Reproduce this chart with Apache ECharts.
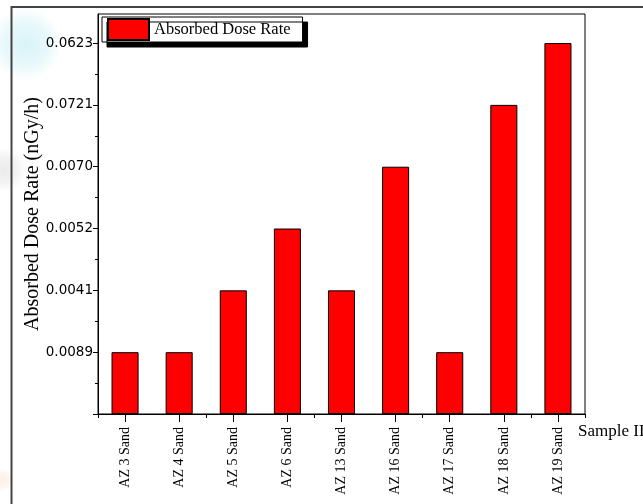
<!DOCTYPE html>
<html>
<head>
<meta charset="utf-8">
<script src="https://cdn.jsdelivr.net/npm/echarts@6/dist/echarts.min.js"></script>
<style>
  html, body { margin: 0; padding: 0; background: #ffffff; }
  #chart { width: 643px; height: 504px; }
</style>
</head>
<body>
<div id="chart"></div>
<script>
// Sample identifiers along the horizontal axis
const categories = ['AZ 3 Sand', 'AZ 4 Sand', 'AZ 5 Sand', 'AZ 6 Sand', 'AZ 13 Sand',
                    'AZ 16 Sand', 'AZ 17 Sand', 'AZ 18 Sand', 'AZ 19 Sand'];

// Printed labels of the dose-rate scale, from the first step upward
const tickLabels = ['0.0089', '0.0041', '0.0052', '0.0070', '0.0721', '0.0623'];

// Absorbed dose rate of each sample (nGy/h), as printed on the scale
const doseRates = ['0.0089', '0.0089', '0.0041', '0.0052', '0.0041',
                   '0.0070', '0.0089', '0.0721', '0.0623'];

// Each bar reaches the scale step that carries its dose-rate label
const barLevels = doseRates.map(d => tickLabels.indexOf(d) + 1);
const majorSteps = [0].concat(tickLabels.map((_, i) => i + 1));
const minorSteps = majorSteps.slice(0, -1).map(v => v + 0.5);

const serif = '"Liberation Serif", "DejaVu Serif", serif';

function haze(cx, cy, rx, ry, rgb, alpha) {
  return {
    type: 'ellipse', silent: true, z: -10,
    shape: { cx: cx, cy: cy, rx: rx, ry: ry },
    style: {
      fill: new echarts.graphic.RadialGradient(0.5, 0.5, 0.5, [
        { offset: 0, color: 'rgba(' + rgb + ',' + alpha + ')' },
        { offset: 0.6, color: 'rgba(' + rgb + ',' + (alpha * 0.6) + ')' },
        { offset: 1, color: 'rgba(' + rgb + ',0)' }
      ])
    }
  };
}

const chart = echarts.init(document.getElementById('chart'), null, { renderer: 'canvas' });

chart.setOption({
  backgroundColor: '#ffffff',
  animation: false,
  graphic: [
    // soft tinted haze at the left margin
    haze(26, 44, 56, 36, '185,234,242', 0.55),
    haze(4, 170, 22, 26, '205,205,205', 0.4),
    haze(2, 480, 12, 40, '248,222,196', 0.45),
    // outer frame
    {
      type: 'polyline', silent: true, z: 5,
      shape: { points: [[11.5, 504], [11.5, 7], [643, 7]] },
      style: { stroke: '#444444', lineWidth: 2, fill: null }
    }
  ],
  legend: {
    data: ['Absorbed Dose Rate'],
    left: 102,
    top: 17,
    orient: 'horizontal',
    icon: 'rect',
    itemWidth: 41,
    itemHeight: 21,
    itemGap: 5,
    padding: [1, 12, 1, 5],
    backgroundColor: '#ffffff',
    borderColor: '#000000',
    borderWidth: 1,
    borderRadius: 0,
    shadowColor: '#000000',
    shadowBlur: 0,
    shadowOffsetX: 5,
    shadowOffsetY: 5,
    textStyle: { fontFamily: serif, fontSize: 16.5, color: '#000000' }
  },
  grid: {
    left: 98, right: 58, top: 14, bottom: 90,
    show: true, borderColor: '#000000', borderWidth: 1, backgroundColor: '#ffffff',
    containLabel: false,
    outerBoundsMode: 'none'
  },
  xAxis: [
    {
      type: 'category',
      data: categories,
      position: 'bottom',
      name: 'Sample ID',
      nameLocation: 'end',
      nameGap: -7,
      nameTextStyle: { fontFamily: serif, fontSize: 17, color: '#000000', verticalAlign: 'top', padding: [9, 0, 0, 0] },
      axisLine: { show: true, lineStyle: { color: '#000000', width: 1 } },
      axisTick: { show: true, alignWithLabel: true, length: 8, lineStyle: { color: '#000000' } },
      axisLabel: { rotate: 90, interval: 0, margin: 13, fontFamily: serif, fontSize: 14, color: '#000000' },
      splitLine: { show: false }
    },
    {
      // short ticks on the category boundaries
      type: 'category',
      data: categories,
      position: 'bottom',
      axisLine: { show: false },
      axisTick: { show: true, alignWithLabel: false, length: 4, lineStyle: { color: '#000000' } },
      axisLabel: { show: false },
      splitLine: { show: false }
    }
  ],
  yAxis: [
    {
      type: 'value',
      min: 0,
      max: 6.47,
      interval: 1,
      position: 'left',
      name: 'Absorbed Dose Rate (nGy/h)',
      nameLocation: 'middle',
      nameGap: 55,
      nameMoveOverlap: false,
      nameTextStyle: { fontFamily: serif, fontSize: 20, color: '#000000' },
      axisLine: { show: true, lineStyle: { color: '#000000', width: 1 } },
      axisTick: { show: true, inside: false, length: 5, customValues: majorSteps, lineStyle: { color: '#000000' } },
      axisLabel: {
        customValues: majorSteps.slice(1),
        margin: 5,
        fontFamily: '"DejaVu Sans", sans-serif',
        fontSize: 13.5,
        color: '#000000',
        formatter: v => tickLabels[Math.round(v) - 1] || ''
      },
      splitLine: { show: false }
    },
    {
      // half-step minor ticks
      type: 'value',
      min: 0,
      max: 6.47,
      interval: 1,
      position: 'left',
      offset: 0,
      axisLine: { show: false },
      axisTick: { show: true, inside: false, length: 3, customValues: minorSteps, lineStyle: { color: '#000000' } },
      axisLabel: { show: false },
      splitLine: { show: false }
    }
  ],
  series: [
    {
      name: 'Absorbed Dose Rate',
      type: 'bar',
      xAxisIndex: 0,
      yAxisIndex: 0,
      data: barLevels,
      barWidth: '50%',
      itemStyle: { color: '#ff0000', borderColor: '#000000', borderWidth: 1 }
    }
  ]
});
</script>
</body>
</html>
